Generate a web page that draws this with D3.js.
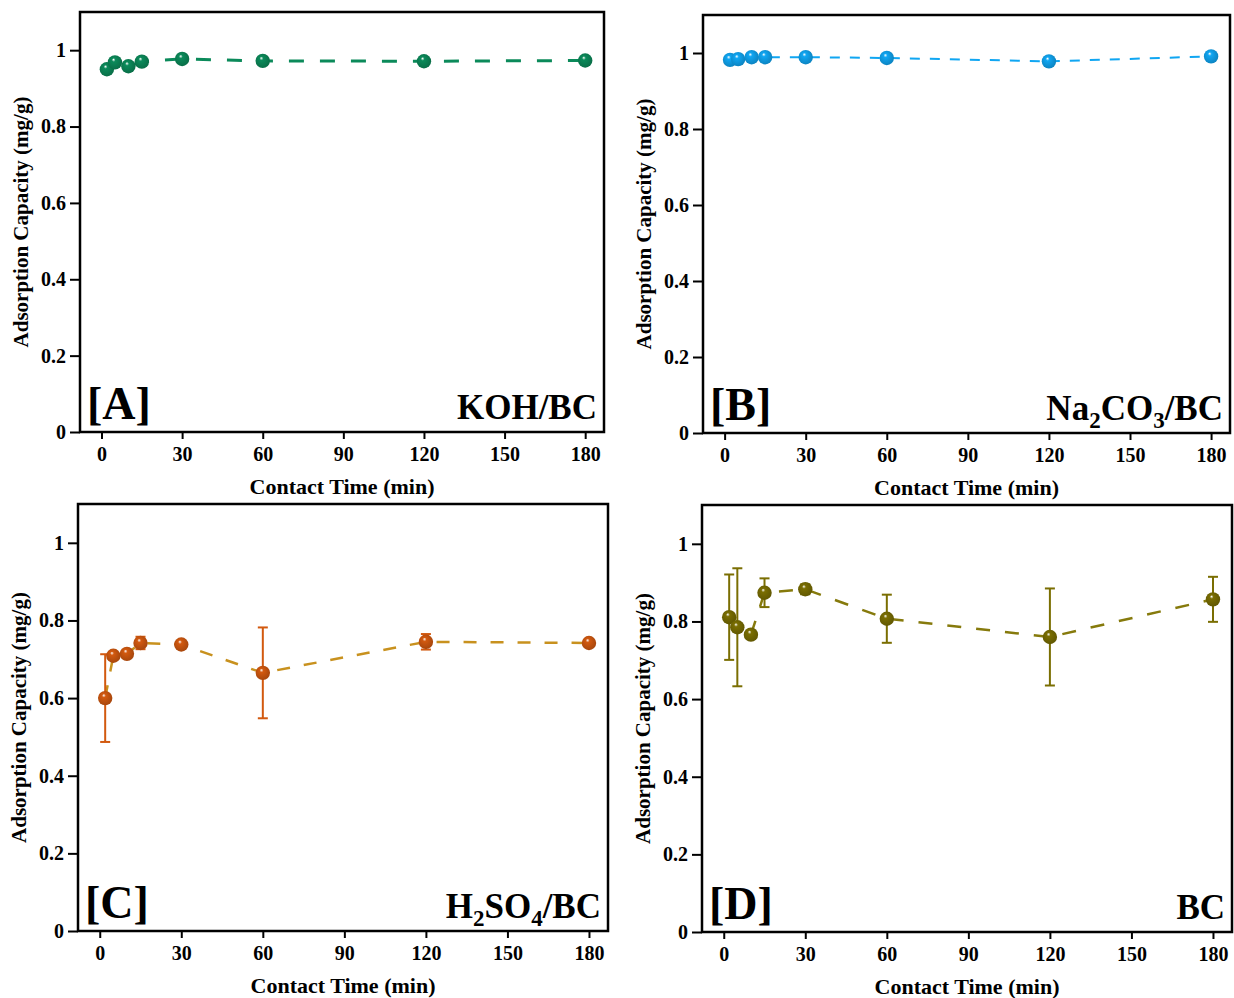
<!DOCTYPE html>
<html>
<head>
<meta charset="utf-8">
<script src="https://cdn.jsdelivr.net/npm/d3@7"></script>
<style>
  body { margin: 0; background: #fff; }
  svg { font-family: "Liberation Serif", "Times New Roman", serif; font-weight: bold; }
  .tick text { font-family: "Liberation Serif", "Times New Roman", serif; font-size: 20px; font-weight: bold; }
</style>
</head>
<body>
<svg width="1234" height="998"></svg>
<script>
// contact time (min), same for every panel
const times = [2, 5, 10, 15, 30, 60, 120, 180];

// adsorption capacity (mg/g) and error (+/-)
const kohValues = [0.950, 0.968, 0.958, 0.970, 0.977, 0.972, 0.971, 0.973];
const kohErrors = [0, 0, 0, 0, 0, 0, 0, 0];

const naValues = [0.982, 0.984, 0.989, 0.989, 0.989, 0.987, 0.978, 0.991];
const naErrors = [0, 0, 0, 0, 0, 0, 0, 0];

const h2so4Values = [0.600, 0.709, 0.714, 0.742, 0.738, 0.665, 0.745, 0.742];
const h2so4Errors = [0.113, 0.004, 0.004, 0.016, 0.006, 0.117, 0.020, 0.005];

const bcValues = [0.811, 0.785, 0.766, 0.874, 0.883, 0.807, 0.760, 0.857];
const bcErrors = [0.110, 0.152, 0.004, 0.037, 0.013, 0.062, 0.125, 0.058];

const xTicks = [0, 30, 60, 90, 120, 150, 180];
const yTicks = [0, 0.2, 0.4, 0.6, 0.8, 1];

const panels = [
    { id: 'a', tag: '[A]', name: [['KOH/BC']], values: kohValues, errors: kohErrors,
      box: [80, 604, 12, 432], marker: '#0b8a5a', line: '#0b8a5a', lw: 3, dash: '15,16' },
    { id: 'b', tag: '[B]', name: [['Na'], ['2', 1], ['CO'], ['3', 1], ['/BC']], values: naValues, errors: naErrors,
      box: [703, 1230, 15, 433], marker: '#10a6f2', line: '#10a6f2', lw: 2, dash: '10,10' },
    { id: 'c', tag: '[C]', name: [['H'], ['2', 1], ['SO'], ['4', 1], ['/BC']], values: h2so4Values, errors: h2so4Errors,
      box: [78, 608, 504, 931], marker: '#d2590f', line: '#c8911e', lw: 2.5, dash: '13,14' },
    { id: 'd', tag: '[D]', name: [['BC']], values: bcValues, errors: bcErrors,
      box: [702, 1232, 505, 932], marker: '#7a6e02', line: '#867a0c', lw: 2.5, dash: '14,15' }
];

const svg = d3.select('svg');
const defs = svg.append('defs');

const drawPanel = (p) => {
    const [left, right, top, bottom] = p.box;

    const x = d3.scaleLinear().domain([-8, 187]).range([left, right]);
    const y = d3.scaleLinear().domain([0, 1.1]).range([bottom, top]);

    // sphere look for markers
    const grad = defs.append('radialGradient')
        .attr('id', 'sphere-' + p.id)
        .attr('cx', '0.45').attr('cy', '0.45').attr('r', '0.6')
        .attr('fx', '0.4').attr('fy', '0.3');
    grad.append('stop').attr('offset', '0%').attr('stop-color', '#fff');
    grad.append('stop').attr('offset', '22%').attr('stop-color', p.marker);
    grad.append('stop').attr('offset', '100%').attr('stop-color', d3.color(p.marker).darker(0.7));

    const g = svg.append('g');

    // axes
    g.append('g')
        .attr('transform', `translate(0,${bottom})`)
        .call(d3.axisBottom(x).tickValues(xTicks).tickSize(7).tickPadding(8))
        .call(a => a.select('.domain').remove())
        .call(a => a.selectAll('line').attr('stroke-width', 2));

    g.append('g')
        .attr('transform', `translate(${left},0)`)
        .call(d3.axisLeft(y).tickValues(yTicks).tickSize(10).tickPadding(4)
            .tickFormat(d => d === 0 || d === 1 ? d3.format('d')(d) : d3.format('.1f')(d)))
        .call(a => a.select('.domain').remove())
        .call(a => a.selectAll('line').attr('stroke-width', 2));

    // frame
    g.append('rect')
        .attr('x', left).attr('y', top)
        .attr('width', right - left).attr('height', bottom - top)
        .attr('fill', 'none').attr('stroke', '#000').attr('stroke-width', 2.5);

    const data = times.map((t, i) => ({ t: t, v: p.values[i], e: p.errors[i] }));

    // dashed connecting line
    g.append('path')
        .datum(data)
        .attr('fill', 'none')
        .attr('stroke', p.line)
        .attr('stroke-width', p.lw)
        .attr('stroke-dasharray', p.dash)
        .attr('d', d3.line().x(d => x(d.t)).y(d => y(d.v)));

    // error bars
    const eb = g.selectAll('.err')
        .data(data.filter(d => d.e > 0))
        .enter().append('g')
        .attr('stroke', p.marker)
        .attr('stroke-width', 2);

    eb.append('line')
        .attr('x1', d => x(d.t)).attr('x2', d => x(d.t))
        .attr('y1', d => y(d.v + d.e)).attr('y2', d => y(d.v - d.e));
    eb.append('line')
        .attr('x1', d => x(d.t) - 5).attr('x2', d => x(d.t) + 5)
        .attr('y1', d => y(d.v + d.e)).attr('y2', d => y(d.v + d.e));
    eb.append('line')
        .attr('x1', d => x(d.t) - 5).attr('x2', d => x(d.t) + 5)
        .attr('y1', d => y(d.v - d.e)).attr('y2', d => y(d.v - d.e));

    // markers
    g.selectAll('.pt')
        .data(data)
        .enter().append('circle')
        .attr('cx', d => x(d.t))
        .attr('cy', d => y(d.v))
        .attr('r', 7.2)
        .attr('fill', `url(#sphere-${p.id})`);

    // axis titles
    g.append('text')
        .attr('x', (left + right) / 2)
        .attr('y', bottom + 62)
        .attr('text-anchor', 'middle')
        .attr('font-size', 22)
        .text('Contact Time (min)');

    g.append('text')
        .attr('transform', `translate(${left - 52},${(top + bottom) / 2}) rotate(-90)`)
        .attr('text-anchor', 'middle')
        .attr('font-size', 21)
        .text('Adsorption Capacity (mg/g)');

    // panel tag and sample name
    g.append('text')
        .attr('x', left + 7)
        .attr('y', bottom - 13)
        .attr('font-size', 46)
        .text(p.tag);

    const name = g.append('text')
        .attr('x', right - 7)
        .attr('y', bottom - 13)
        .attr('text-anchor', 'end')
        .attr('font-size', 35);

    p.name.forEach(part => {
        const span = name.append('tspan').text(part[0]);
        if (part[1]) span.attr('font-size', 23).attr('dy', 8);
        else span.attr('dy', name.selectAll('tspan').size() > 1 ? -8 : 0);
    });
};

panels.forEach(drawPanel);
</script>
</body>
</html>
